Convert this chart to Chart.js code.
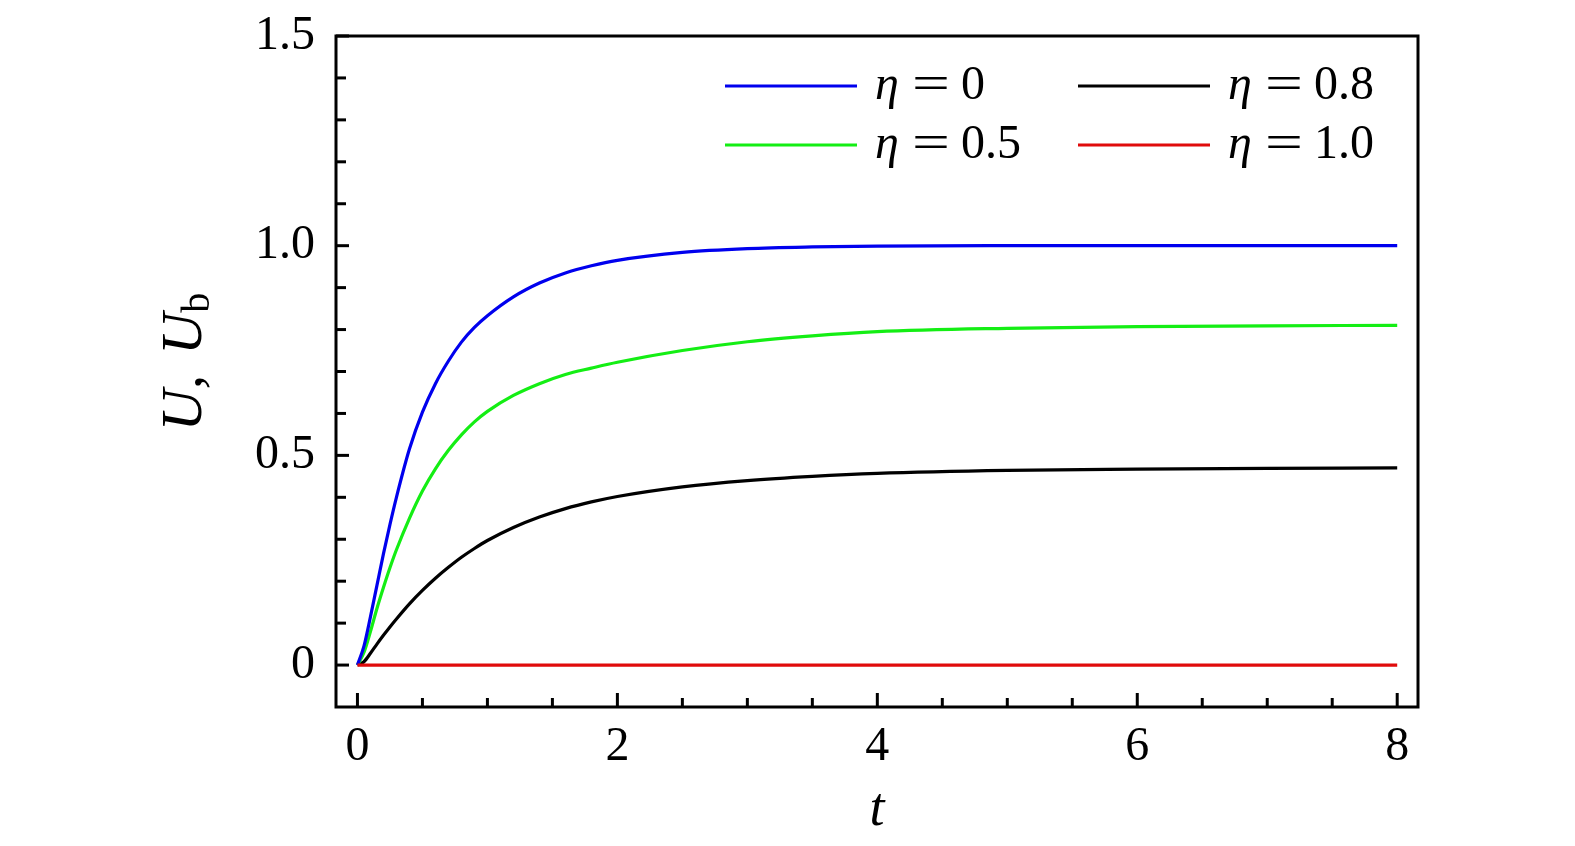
<!DOCTYPE html>
<html>
<head>
<meta charset="utf-8">
<script src="https://cdn.jsdelivr.net/npm/chart.js@4.4.0/dist/chart.umd.min.js"></script>
<style>
  body { margin: 0; background: #fff; }
  #wrap { width: 1575px; height: 846px; }
</style>
</head>
<body>
<div id="wrap"><canvas id="chartCanvas" width="1575" height="846"></canvas></div>
<script>
// values
const timeValues = [0, 0.05, 0.1, 0.15, 0.2, 0.25, 0.3, 0.4, 0.5, 0.6, 0.7, 0.8, 0.9, 1.0, 1.2, 1.4, 1.6, 1.8, 2.0, 2.5, 3, 3.5, 4, 5, 6, 7, 8];
const uEta0  = [0, 0.045, 0.115, 0.19, 0.265, 0.335, 0.40, 0.515, 0.603, 0.671, 0.725, 0.770, 0.805, 0.833, 0.878, 0.911, 0.935, 0.952, 0.965, 0.984, 0.993, 0.997, 0.999, 1.0, 1.0, 1.0, 1.0];
const uEta05 = [0, 0.03, 0.08, 0.135, 0.185, 0.232, 0.275, 0.35, 0.415, 0.468, 0.512, 0.549, 0.580, 0.605, 0.643, 0.671, 0.693, 0.708, 0.722, 0.750, 0.771, 0.785, 0.795, 0.803, 0.807, 0.809, 0.81];
const uEta08 = [0, 0.008, 0.028, 0.05, 0.071, 0.091, 0.11, 0.146, 0.178, 0.207, 0.233, 0.257, 0.278, 0.297, 0.328, 0.353, 0.373, 0.389, 0.402, 0.425, 0.440, 0.450, 0.457, 0.464, 0.467, 0.469, 0.47];
const uEta10 = [0, 0, 0, 0, 0, 0, 0, 0, 0, 0, 0, 0, 0, 0, 0, 0, 0, 0, 0, 0, 0, 0, 0, 0, 0, 0, 0];

const etaLabels = ['0', '0.5', '0.8', '1.0'];
const etaColors = ['#0000ee', '#14ee14', '#000000', '#e00b0b'];

const xTickValues = [0, 0.5, 1, 1.5, 2, 2.5, 3, 3.5, 4, 4.5, 5, 5.5, 6, 6.5, 7, 7.5, 8];
const xMajorTicks = [0, 2, 4, 6, 8];
const xTickLabels = ['0', '2', '4', '6', '8'];
const yTickValues = [0, 0.1, 0.2, 0.3, 0.4, 0.5, 0.6, 0.7, 0.8, 0.9, 1.0, 1.1, 1.2, 1.3, 1.4, 1.5];
const yMajorTicks = [0, 0.5, 1.0, 1.5];
const yTickLabels = ['0', '0.5', '1.0', '1.5'];

const serif = '"Liberation Serif", "DejaVu Serif", serif';

function toPoints(xs, ys) {
    return xs.map((x, i) => ({ x: x, y: ys[i] }));
}

// frame round the plot and inward tick marks
const framePlugin = {
    id: 'frame',
    afterDraw(chart) {
        const ctx = chart.ctx;
        const area = chart.chartArea;
        const xs = chart.scales.x;
        const ys = chart.scales.y;
        ctx.save();
        ctx.strokeStyle = '#000';
        ctx.lineWidth = 3;
        ctx.lineCap = 'butt';
        xTickValues.forEach(v => {
            const px = xs.getPixelForValue(v);
            const len = xMajorTicks.includes(v) ? 14 : 9;
            ctx.beginPath();
            ctx.moveTo(px, area.bottom);
            ctx.lineTo(px, area.bottom - len);
            ctx.stroke();
        });
        yTickValues.forEach(v => {
            const py = ys.getPixelForValue(v);
            const len = yMajorTicks.includes(v) ? 13 : 10;
            ctx.beginPath();
            ctx.moveTo(area.left, py);
            ctx.lineTo(area.left + len, py);
            ctx.stroke();
        });
        ctx.strokeRect(area.left, area.top, area.right - area.left, area.bottom - area.top);
        ctx.restore();
    }
};

// two column legend, eta in italic
const legendPlugin = {
    id: 'etaLegend',
    afterDraw(chart) {
        const ctx = chart.ctx;
        const cols = [725, 1078];
        const rows = [86, 145];
        const order = [0, 2, 1, 3];
        ctx.save();
        order.forEach((dsIndex, k) => {
            const lx = cols[k % 2 === 0 ? 0 : 1];
            const ly = rows[k < 2 ? 0 : 1];
            const ds = chart.data.datasets[dsIndex];
            ctx.strokeStyle = ds.borderColor;
            ctx.lineWidth = 3;
            ctx.beginPath();
            ctx.moveTo(lx, ly);
            ctx.lineTo(lx + 132, ly);
            ctx.stroke();
            const tx = lx + 150;
            const base = ly + 13;
            ctx.fillStyle = '#000';
            ctx.textBaseline = 'alphabetic';
            ctx.textAlign = 'left';
            ctx.font = 'italic 48px ' + serif;
            ctx.fillText('η', tx, base);
            ctx.font = '48px ' + serif;
            // wide equals sign like the TeX one
            ctx.save();
            ctx.translate(tx + 56, base);
            ctx.scale(1.4, 1);
            ctx.textAlign = 'center';
            ctx.fillText('=', 0, 0);
            ctx.restore();
            ctx.textAlign = 'left';
            ctx.fillText(etaLabels[dsIndex], tx + 86, base);
        });
        ctx.restore();
    }
};

// y axis title with subscript b
const yTitlePlugin = {
    id: 'yTitle',
    afterDraw(chart) {
        const ctx = chart.ctx;
        ctx.save();
        ctx.translate(201, 362);
        ctx.rotate(-Math.PI / 2);
        ctx.fillStyle = '#000';
        ctx.textBaseline = 'alphabetic';
        ctx.textAlign = 'left';
        const mainFont = 'italic 58px ' + serif;
        const subFont = '40px ' + serif;
        ctx.font = mainFont;
        const wU = ctx.measureText('U').width;
        const wC = ctx.measureText(',').width;
        ctx.font = subFont;
        const wB = ctx.measureText('b').width;
        const gap = 20;
        const total = wU + wC + gap + wU + wB;
        let pos = -total / 2;
        ctx.font = mainFont;
        ctx.fillText('U', pos, 0);
        pos += wU;
        ctx.fillText(',', pos, 0);
        pos += wC + gap;
        ctx.fillText('U', pos, 0);
        pos += wU;
        ctx.font = subFont;
        ctx.fillText('b', pos, 8);
        ctx.restore();
    }
};

function buildChart() {
    const series = [uEta0, uEta05, uEta08, uEta10];
    const datasets = series.map((ys, i) => ({
        label: 'η = ' + etaLabels[i],
        data: toPoints(timeValues, ys),
        borderColor: etaColors[i],
        borderWidth: 3.2,
        pointRadius: 0,
        fill: false,
        cubicInterpolationMode: 'monotone',
        order: i === 3 ? 0 : i + 1
    }));

    const config = {
        type: 'line',
        data: { datasets: datasets },
        options: {
            responsive: false,
            animation: false,
            layout: { autoPadding: false, padding: { top: 36, right: 157, left: 0, bottom: 0 } },
            plugins: {
                legend: { display: false },
                tooltip: { enabled: false }
            },
            scales: {
                x: {
                    type: 'linear',
                    min: -0.165,
                    max: 8.16,
                    afterBuildTicks: scale => { scale.ticks = xTickValues.map(v => ({ value: v })); },
                    afterFit: scale => {
                        scale.height = 139;
                        scale.paddingLeft = 0;
                        scale.paddingRight = 0;
                        scale.paddingTop = 0;
                        scale.paddingBottom = 0;
                    },
                    grid: { display: false, drawTicks: false },
                    border: { display: false },
                    ticks: {
                        autoSkip: false,
                        maxRotation: 0,
                        padding: 12,
                        color: '#000',
                        font: { family: serif, size: 48 },
                        callback: value => {
                            const i = xMajorTicks.indexOf(value);
                            return i >= 0 ? xTickLabels[i] : '';
                        }
                    },
                    title: {
                        display: true,
                        text: 't',
                        color: '#000',
                        font: { family: serif, size: 54, style: 'italic' },
                        padding: { top: 0, bottom: 3 }
                    }
                },
                y: {
                    type: 'linear',
                    min: -0.1,
                    max: 1.5,
                    afterBuildTicks: scale => { scale.ticks = yTickValues.map(v => ({ value: v })); },
                    afterFit: scale => {
                        scale.width = 336;
                        scale.paddingTop = 0;
                        scale.paddingBottom = 0;
                        scale.paddingLeft = 0;
                        scale.paddingRight = 0;
                    },
                    grid: { display: false, drawTicks: false },
                    border: { display: false },
                    ticks: {
                        autoSkip: false,
                        padding: 21,
                        color: '#000',
                        font: { family: serif, size: 48 },
                        callback: value => {
                            const i = yMajorTicks.indexOf(value);
                            return i >= 0 ? yTickLabels[i] : '';
                        }
                    }
                }
            }
        },
        plugins: [framePlugin, legendPlugin, yTitlePlugin]
    };

    new Chart(document.getElementById('chartCanvas'), config);
}

buildChart();
</script>
</body>
</html>
